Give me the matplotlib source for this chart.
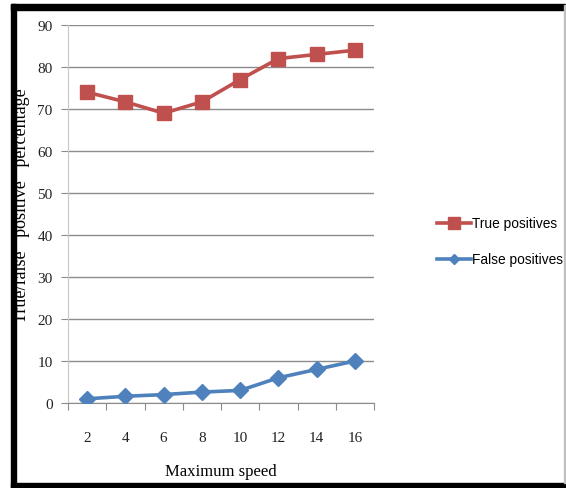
import matplotlib
matplotlib.use("Agg")
import matplotlib.pyplot as plt
from matplotlib.patches import Rectangle
from matplotlib.lines import Line2D

speeds = ["2", "4", "6", "8", "10", "12", "14", "16"]
true_pos = [74, 71.7, 69, 71.7, 77, 82, 83, 84]
false_pos = [1, 1.6, 2, 2.6, 3, 6, 8, 10]

W, H = 566, 489
fig = plt.figure(figsize=(W / 100, H / 100), dpi=100)
ax = fig.add_axes([68 / W, 1 - 404 / H, (374 - 68) / W, (404 - 26) / H])

xs = list(range(len(speeds)))
red = "#C0504D"
blue = "#4F81BD"
ax.plot(xs, true_pos, color=red, lw=2.6, marker="s", ms=10, label="True positives", zorder=3)
ax.plot(xs, false_pos, color=blue, lw=2.6, marker="D", ms=8, label="False positives", zorder=3)

ax.set_xlim(-0.5, len(speeds) - 0.5)
ax.set_ylim(0, 90)
ax.set_yticks(range(0, 91, 10))
ax.yaxis.grid(True, color="#8c8c8c", lw=1)
ax.set_axisbelow(True)

# category boundaries get the tick marks, centres get the labels
ax.set_xticks([x - 0.5 for x in range(len(speeds) + 1)])
ax.set_xticklabels([])
ax.set_xticks(xs, minor=True)
ax.set_xticklabels(speeds, minor=True)
ax.tick_params(axis="x", which="major", length=5, color="#8c8c8c", direction="out")
ax.tick_params(axis="x", which="minor", length=0, pad=20)
ax.tick_params(axis="y", length=5, color="#8c8c8c", pad=6)

serif = "Liberation Serif"
for lab in ax.get_xticklabels(minor=True) + ax.get_yticklabels():
    lab.set_fontfamily(serif)
    lab.set_fontsize(11)
    lab.set_color("#222222")

for s in ["top", "right"]:
    ax.spines[s].set_visible(False)
ax.spines["left"].set_color("#c8c8c8")
ax.spines["bottom"].set_color("#8c8c8c")

ax.set_xlabel("Maximum speed", fontfamily=serif, fontsize=12, labelpad=14)
fig.text(21 / W, 1 - 206 / H, "True/false   positive   percentage", rotation=90,
         ha="center", va="center", fontfamily=serif, fontsize=13)

handles = [
    Line2D([], [], color=red, lw=2.6, marker="s", ms=8),
    Line2D([], [], color=blue, lw=2.6, marker="D", ms=5),
]
fig.legend(handles, ["True positives", "False positives"], loc="upper left",
           bbox_to_anchor=(431 / W, 1 - 212 / H), frameon=False,
           prop={"family": "Liberation Sans", "size": 9.9},
           handlelength=2.5, handletextpad=0.1, labelspacing=1.6, borderaxespad=0)

# page border around the chart
fig.patches.append(Rectangle((11 / W, 0), 5 / W, 1 - 5 / H, transform=fig.transFigure, color="black"))
fig.patches.append(Rectangle((11 / W, 1 - 11 / H), (565 - 11) / W, 6 / H, transform=fig.transFigure, color="black"))
fig.patches.append(Rectangle((11 / W, 0), (566 - 11) / W, 5 / H, transform=fig.transFigure, color="black"))
fig.patches.append(Rectangle((564 / W, 5 / H), 1.5 / W, 1 - 11 / H, transform=fig.transFigure, color="#c0c0c0"))

fig.savefig("out.png", dpi=100)
